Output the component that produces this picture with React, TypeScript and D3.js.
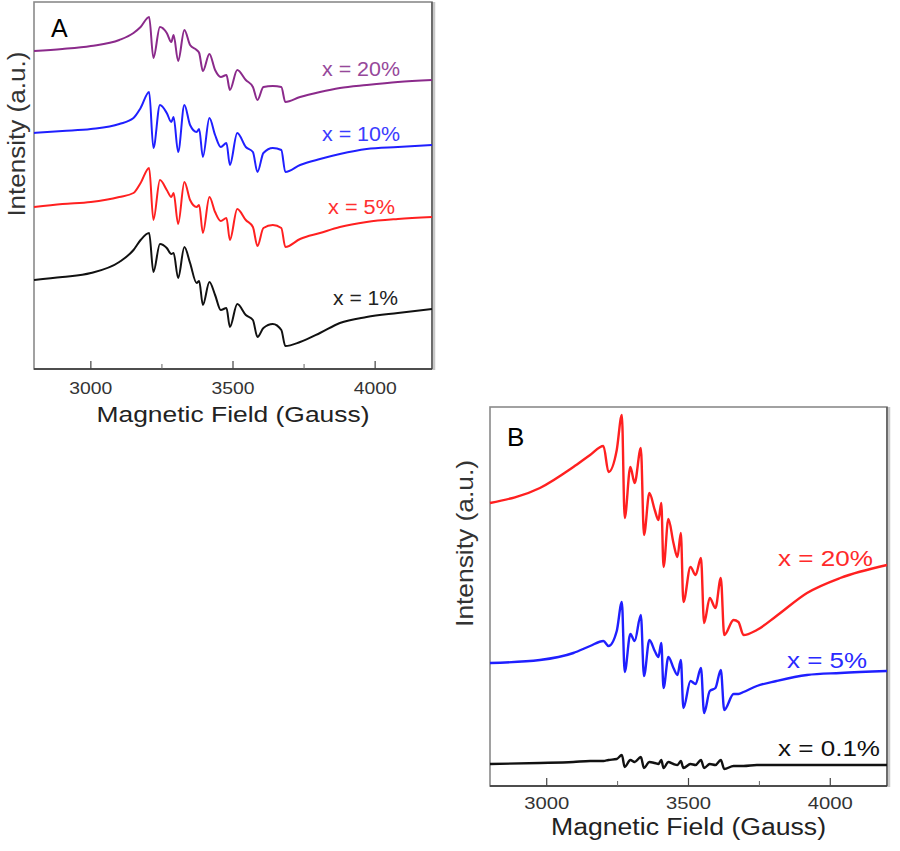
import React, { useEffect, useRef } from 'react';
import * as d3 from 'd3';

// field grid (Gauss) for panel A and B
const fieldA = [2800, 2900, 3000, 3100, 3150, 3175, 3205, 3220, 3243, 3267, 3283, 3291, 3307, 3329, 3349, 3372, 3381, 3394, 3417, 3437, 3457, 3477, 3489, 3515, 3545, 3570, 3586, 3607, 3640, 3670, 3684, 3736, 3806, 3876, 3970, 4080, 4200];
const a20 = [318, 320, 323, 329, 336, 342, 352, 311, 342, 336, 327, 334, 308, 339, 324, 319, 316, 298, 315, 299, 292, 294, 279, 299, 289, 282, 269, 282, 283, 282, 267, 272, 277, 281, 284, 287, 289];
const a10 = [236, 238, 240, 245, 251, 261, 277, 221, 264, 256, 247, 252, 217, 264, 244, 237, 240, 212, 251, 234, 222, 226, 204, 236, 222, 217, 197, 216, 221, 219, 197, 204, 210, 215, 220, 222, 224];
const a5 = [162, 165, 167, 172, 176, 186, 201, 149, 189, 179, 172, 176, 145, 187, 169, 162, 164, 136, 172, 157, 148, 151, 129, 160, 149, 142, 123, 141, 144, 141, 122, 130, 136, 142, 147, 150, 152];
const a1 = [89, 92, 96, 107, 119, 129, 136, 97, 125, 121, 115, 116, 91, 122, 106, 86, 88, 64, 87, 74, 59, 61, 42, 65, 54, 49, 32, 41, 45, 39, 23, 27, 36, 46, 52, 56, 60];

const fieldB = [2800, 2976, 3094, 3153, 3200, 3218, 3247, 3265, 3275, 3295, 3310, 3332, 3343, 3362, 3381, 3394, 3404, 3412, 3429, 3447, 3461, 3473, 3482, 3507, 3525, 3544, 3555, 3575, 3595, 3614, 3626, 3659, 3676, 3694, 3741, 3810, 3918, 4035, 4200];
const b20 = [283, 298, 319, 331, 340, 314, 336, 371, 268, 319, 303, 338, 251, 293, 276, 266, 283, 219, 267, 243, 229, 253, 184, 219, 211, 228, 163, 188, 178, 208, 151, 166, 164, 151, 156, 170, 193, 208, 221];
const b5 = [123, 126, 133, 140, 145, 140, 155, 184, 114, 152, 145, 171, 110, 146, 135, 129, 143, 98, 129, 118, 111, 126, 78, 105, 102, 118, 73, 95, 98, 116, 76, 92, 92, 94, 100, 105, 111, 113, 115];
const b01 = [22, 23, 24, 25, 25, 26, 27, 31, 19, 26, 24, 29, 18, 24, 23, 22, 26, 18, 24, 22, 21, 25, 18, 22, 21, 26, 18, 22, 21, 26, 17, 20, 20, 20, 21, 21, 21, 21, 21];

const majorTicks = [3000, 3500, 4000];
const minorTicks = [3250, 3750];

const seriesA = [
  { label: 'x = 20%', values: a20, color: '#8b2a8b', labelColor: '#96489a' },
  { label: 'x = 10%', values: a10, color: '#1f1fff', labelColor: '#3b3bff' },
  { label: 'x = 5%', values: a5, color: '#ff2020', labelColor: '#ff3030' },
  { label: 'x = 1%', values: a1, color: '#111111', labelColor: '#222222' },
];
const seriesB = [
  { label: 'x = 20%', values: b20, color: '#ff2020', labelColor: '#ff2a2a' },
  { label: 'x = 5%', values: b5, color: '#1f1fff', labelColor: '#2a2aff' },
  { label: 'x = 0.1%', values: b01, color: '#111111', labelColor: '#111111' },
];

const FONT = '"Liberation Sans", Arial, sans-serif';

interface PanelCfg {
  left: number; right: number; top: number; bottom: number;
  yMax: number;
  fields: number[];
  series: typeof seriesA;
  letter: string; letterX: number; letterY: number; letterSize: number;
  lw: number;
  tickSize: number; tickLen: number; tickBase: number;
  titleSize: number; titleLen: number; titleBase: number;
  yTitleX: number; yTitleLen: number; yTitleSize: number;
  labels: { x: number; y: number; len: number }[];
  labelSize: number;
}

function drawPanel(svg: d3.Selection<SVGSVGElement, unknown, null, undefined>, c: PanelCfg) {
  const x = d3.scaleLinear().domain([2800, 4200]).range([c.left, c.right]);
  const y = d3.scaleLinear().domain([0, c.yMax]).range([c.bottom, c.top]);
  const g = svg.append('g');

  // frame
  g.append('rect')
    .attr('x', c.left).attr('y', c.top)
    .attr('width', c.right - c.left).attr('height', c.bottom - c.top)
    .attr('fill', '#fff').attr('stroke', '#8a8a8a').attr('stroke-width', 1.6);
  g.append('line')
    .attr('x1', c.right + 2).attr('x2', c.right + 2).attr('y1', c.top).attr('y2', c.bottom + 1)
    .attr('stroke', '#c8c8c8').attr('stroke-width', 2.5);
  g.append('line')
    .attr('x1', c.right).attr('x2', c.right).attr('y1', c.top).attr('y2', c.bottom)
    .attr('stroke', '#555').attr('stroke-width', 1.4);
  g.append('line')
    .attr('x1', c.left).attr('x2', c.right).attr('y1', c.bottom).attr('y2', c.bottom)
    .attr('stroke', '#333').attr('stroke-width', 1.6);

  majorTicks.forEach(t => {
    g.append('line').attr('x1', x(t)).attr('x2', x(t)).attr('y1', c.bottom).attr('y2', c.bottom - 8)
      .attr('stroke', '#444').attr('stroke-width', 1.2);
    g.append('text').attr('x', x(t)).attr('y', c.tickBase)
      .attr('text-anchor', 'middle').attr('font-family', FONT).attr('font-size', c.tickSize)
      .attr('fill', '#333').attr('textLength', c.tickLen).attr('lengthAdjust', 'spacingAndGlyphs')
      .text(String(t));
  });
  minorTicks.forEach(t => {
    g.append('line').attr('x1', x(t)).attr('x2', x(t)).attr('y1', c.bottom).attr('y2', c.bottom - 5)
      .attr('stroke', '#666').attr('stroke-width', 1);
  });

  // smooth tails, sharp hyperfine extrema kept at the data points
  const line = d3.line<number>()
    .x((_, i) => x(c.fields[i]))
    .y(d => y(d))
    .curve(d3.curveMonotoneX);

  c.series.forEach((s, i) => {
    g.append('path')
      .attr('d', line(s.values) as string)
      .attr('fill', 'none')
      .attr('stroke', s.color)
      .attr('stroke-width', c.lw)
      .attr('stroke-linejoin', 'round');
    const lb = c.labels[i];
    g.append('text').attr('x', lb.x).attr('y', lb.y)
      .attr('font-family', FONT).attr('font-size', c.labelSize)
      .attr('fill', s.labelColor)
      .attr('textLength', lb.len).attr('lengthAdjust', 'spacingAndGlyphs')
      .text(s.label);
  });

  g.append('text').attr('x', c.letterX).attr('y', c.letterY)
    .attr('font-family', FONT).attr('font-size', c.letterSize).attr('fill', '#000')
    .text(c.letter);

  g.append('text').attr('x', (c.left + c.right) / 2).attr('y', c.titleBase)
    .attr('text-anchor', 'middle').attr('font-family', FONT).attr('font-size', c.titleSize)
    .attr('fill', '#222').attr('textLength', c.titleLen).attr('lengthAdjust', 'spacingAndGlyphs')
    .text('Magnetic Field (Gauss)');

  const cy = c.top + (c.bottom - c.top) * 0.36;
  g.append('text')
    .attr('transform', `translate(${c.yTitleX},${cy}) rotate(-90)`)
    .attr('text-anchor', 'middle').attr('font-family', FONT).attr('font-size', c.yTitleSize)
    .attr('fill', '#333').attr('textLength', c.yTitleLen).attr('lengthAdjust', 'spacingAndGlyphs')
    .text('Intensity (a.u.)');
}

export default function App() {
  const ref = useRef<SVGSVGElement>(null);

  useEffect(() => {
    if (!ref.current) return;
    const svg = d3.select(ref.current);
    svg.selectAll('*').remove();

    drawPanel(svg, {
      left: 34, right: 432, top: 2, bottom: 369, yMax: 367,
      fields: fieldA, series: seriesA,
      letter: 'A', letterX: 51, letterY: 37, letterSize: 25,
      lw: 2,
      tickSize: 16, tickLen: 43, tickBase: 394,
      titleSize: 22, titleLen: 273, titleBase: 422,
      yTitleX: 25, yTitleLen: 165, yTitleSize: 23,
      labels: [
        { x: 322, y: 76, len: 78 },
        { x: 322, y: 141, len: 78 },
        { x: 328, y: 214, len: 67 },
        { x: 333, y: 305, len: 65 },
      ],
      labelSize: 20,
    });

    drawPanel(svg, {
      left: 490, right: 887, top: 407, bottom: 786, yMax: 379,
      fields: fieldB, series: seriesB,
      letter: 'B', letterX: 507, letterY: 446, letterSize: 26,
      lw: 2.4,
      tickSize: 17, tickLen: 45, tickBase: 809,
      titleSize: 23, titleLen: 275, titleBase: 835,
      yTitleX: 473, yTitleLen: 167, yTitleSize: 24,
      labels: [
        { x: 778, y: 566, len: 95 },
        { x: 787, y: 668, len: 80 },
        { x: 778, y: 756, len: 102 },
      ],
      labelSize: 22,
    });
  }, []);

  return (
    <svg
      ref={ref}
      width={900}
      height={851}
      style={{ position: 'absolute', left: 0, top: 0, background: '#fff' }}
    />
  );
}
